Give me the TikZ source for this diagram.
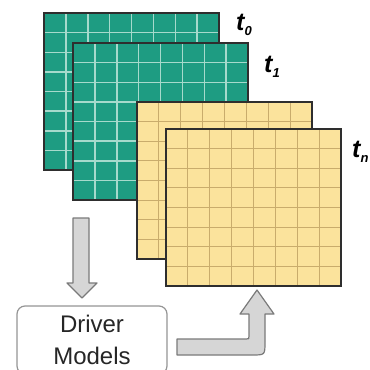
\documentclass[tikz,border=0pt]{standalone}
\usepackage{fontspec}
\setmainfont{Liberation Sans}

\definecolor{sheetgreen}{HTML}{1E9C82}
\definecolor{gridgreen}{HTML}{A6DACC}
\definecolor{sheetyellow}{HTML}{FBE39C}
\definecolor{gridyellow}{HTML}{C9AC6C}
\definecolor{sheetedge}{HTML}{2E2E2E}
\definecolor{arrowfill}{HTML}{D6D6D6}
\definecolor{arrowedge}{HTML}{7A7A7A}

\tikzset{
  sheet edge/.style={draw=sheetedge, line width=2pt},
  tlabel/.style={inner sep=0pt, anchor=base west, font=\fontsize{25}{27}\selectfont\bfseries\itshape},
  block arrow/.style={fill=arrowfill, draw=arrowedge, line width=1.2pt, line join=round},
  modelbox/.style={draw=arrowedge!80, line width=1.2pt, rounded corners=8pt, fill=white,
    minimum width=150pt, minimum height=68pt, align=center, text=black!85,
    font=\fontsize{24}{32}\selectfont}
}

\newcommand{\tsub}[1]{\raisebox{-5pt}{\fontsize{13}{13}\selectfont #1}}

\begin{document}
\begin{tikzpicture}[x=1pt, y=-1pt]
    \useasboundingbox (0,0) rectangle (370,370);

    % the four time sheets, back to front
    \foreach \lx/\ly/\lfill/\lline/\lw in {44/13/sheetgreen/gridgreen/1.5, 73/43/sheetgreen/gridgreen/1.5,
                                           137/102/sheetyellow/gridyellow/1, 166/129/sheetyellow/gridyellow/1} {
      \fill [\lfill] (\lx,\ly) rectangle ++(175,157);
      \foreach \i in {1,...,7} {
        \draw [\lline, line width=\lw pt] ({\lx+\i*21.875},\ly) -- ++(0,157);
        \draw [\lline, line width=\lw pt] (\lx,{\ly+\i*19.625}) -- ++(175,0);
      }
      \draw [sheet edge] (\lx,\ly) rectangle ++(175,157);
    }

    \node (t0) [tlabel] at (236,30) {t\tsub{0}};
    \node (t1) [tlabel] at (264,72) {t\tsub{1}};
    \node (tn) [tlabel] at (352,157) {t\tsub{n}};

    \node (driver) [modelbox] at (92,340) {Driver\\Models};

    % down into the models
    \draw [block arrow] (73,218) -- (89,218) -- (89,283) -- (97,283) -- (82,298)
        -- (67,283) -- (73,283) -- cycle;
    % back up to the last sheet
    \draw [block arrow] (177,339) -- (246,339) .. controls (249,339) .. (249,336)
        -- (249,314) -- (240,314) -- (257,290) -- (274,314) -- (265,314)
        -- (265,342) .. controls (265,355) .. (252,355) -- (177,355) -- cycle;
\end{tikzpicture}
\end{document}
